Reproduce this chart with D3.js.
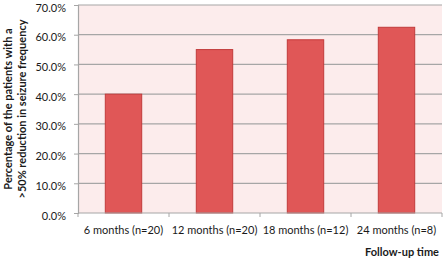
<!DOCTYPE html>
<html><head><meta charset="utf-8">
<script src="https://cdn.jsdelivr.net/npm/d3@7"></script>
<style>body{margin:0;background:#fff}svg{display:block}text{font-family:Lato,"Open Sans",sans-serif;fill:#1a1a1a}</style>
</head><body>
<script>
const categories = ["6 months (n=20)", "12 months (n=20)", "18 months (n=12)", "24 months (n=8)"];
const values = [40.0, 55.0, 58.3, 62.5];
const yTicks = [0, 10, 20, 30, 40, 50, 60, 70];
const yTitle = ["Percentage of the patients with a", ">50% reduction in seizure frequency"];
const xTitle = "Follow-up time";

const W = 446, H = 261;
const m = {left: 78, right: 4, top: 5, bottom: 48};
const svg = d3.select("body").append("svg").attr("width", W).attr("height", H);
const x = d3.scaleBand().domain(categories).range([m.left, W - m.right]).paddingInner(0.6).paddingOuter(0.3);
const y = d3.scaleLinear().domain([0, 70]).range([H - m.bottom, m.top]);

svg.append("rect").attr("x", m.left).attr("y", m.top).attr("width", W - m.right - m.left)
  .attr("height", y(0) - m.top).attr("fill", "#fcecec");

svg.append("g").selectAll("line").data(yTicks.filter(d => d > 0)).join("line")
  .attr("x1", m.left).attr("x2", W - m.right).attr("y1", d => y(d)).attr("y2", d => y(d))
  .attr("stroke", "#a6a6a6").attr("stroke-width", 1.2);

svg.append("g").selectAll("rect").data(values).join("rect")
  .attr("x", (d, i) => x(categories[i])).attr("width", x.bandwidth())
  .attr("y", d => y(d)).attr("height", d => y(0) - y(d))
  .attr("fill", "#e05757").attr("stroke", "#c13b3b").attr("stroke-width", 1);

const yAxis = svg.append("g").attr("transform", `translate(${m.left},0)`)
  .call(d3.axisLeft(y).tickValues(yTicks).tickFormat(d => d.toFixed(1) + "%").tickSize(4).tickPadding(8));
yAxis.select(".domain").attr("stroke", "#a6a6a6").attr("stroke-width", 1.2);
yAxis.selectAll(".tick line").attr("stroke", "#a6a6a6");
yAxis.selectAll("text").attr("font-size", 11).attr("font-family", "Lato").attr("dy", "0.55em");

const step = x.step();
const bounds = d3.range(categories.length + 1).map(i => m.left + i * step);
svg.append("line").attr("x1", m.left).attr("x2", W - m.right).attr("y1", y(0)).attr("y2", y(0))
  .attr("stroke", "#a6a6a6").attr("stroke-width", 1.2);
svg.append("g").selectAll("line").data(bounds).join("line")
  .attr("x1", d => d).attr("x2", d => d).attr("y1", y(0)).attr("y2", y(0) + 4)
  .attr("stroke", "#a6a6a6");
svg.append("g").selectAll("text").data(categories).join("text")
  .attr("x", d => x(d) + x.bandwidth() / 2).attr("y", y(0) + 21)
  .attr("text-anchor", "middle").attr("font-size", 11).text(d => d);

svg.append("text").attr("x", W - 7).attr("y", 256).attr("text-anchor", "end")
  .attr("font-size", 11).attr("font-weight", "bold").text(xTitle);

const t = svg.append("text").attr("transform", `translate(0,${(m.top + y(0)) / 2}) rotate(-90)`)
  .attr("text-anchor", "middle").attr("font-size", 11).attr("font-weight", "bold");
t.selectAll("tspan").data(yTitle).join("tspan").attr("x", 0).attr("y", (d, i) => 12 + i * 13.5).text(d => d);
</script>
</body></html>
